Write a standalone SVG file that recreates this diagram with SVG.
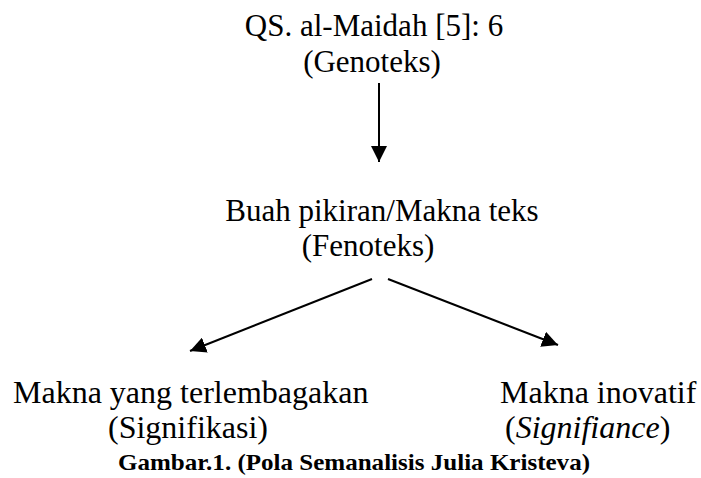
<svg xmlns="http://www.w3.org/2000/svg" width="701" height="478" viewBox="0 0 701 478">
<style>
text{font-family:"Liberation Serif","Times New Roman",serif;font-size:31px;fill:#000}
.c{text-anchor:middle}
.b{font-size:32px}
.cap{font-weight:bold;font-size:23px}
.conn line{stroke:#000;stroke-width:2}
</style>
<defs>
<marker id="ah" viewBox="0 0 10 10" refX="10" refY="5" markerWidth="16" markerHeight="16" markerUnits="userSpaceOnUse" orient="auto">
<path d="M0,0 L10,5 L0,10 z" fill="#000"/>
</marker>
</defs>
<rect width="701" height="478" fill="#fff"/>
<g class="conn">
<line x1="379" y1="83" x2="379" y2="162" marker-end="url(#ah)"/>
<line x1="372" y1="279" x2="190" y2="351" marker-end="url(#ah)"/>
<line x1="388" y1="279" x2="558" y2="345" marker-end="url(#ah)"/>
</g>
<g id="genoteks">
<text x="374" y="36" class="c">QS. al-Maidah [5]: 6</text>
<text x="372" y="72" class="c">(Genoteks)</text>
</g>
<g id="fenoteks">
<text x="382" y="221" class="c">Buah pikiran/Makna teks</text>
<text x="368" y="256" class="c">(Fenoteks)</text>
</g>
<g id="signifikasi">
<text x="13" y="403" class="b">Makna yang terlembagakan</text>
<text x="108" y="438" class="b">(Signifikasi)</text>
</g>
<g id="signifiance">
<text x="500" y="403" class="b">Makna inovatif</text>
<text x="505" y="438" class="b">(<tspan font-style="italic">Signifiance</tspan>)</text>
</g>
<g id="caption">
<text x="118" y="470" class="cap" textLength="472" lengthAdjust="spacingAndGlyphs">Gambar.1. (Pola Semanalisis Julia Kristeva)</text>
</g>
</svg>
